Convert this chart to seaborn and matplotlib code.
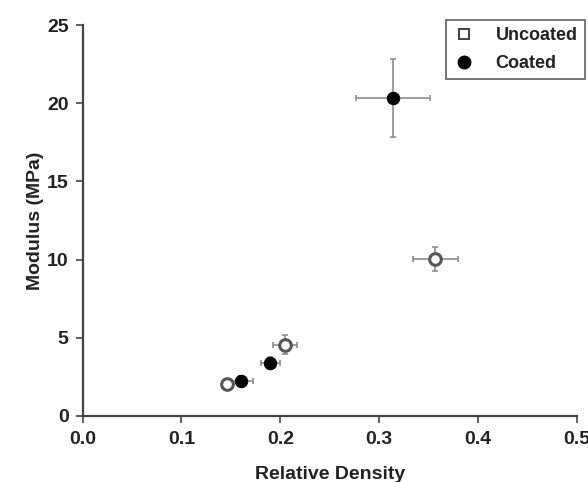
import pandas as pd
import matplotlib.pyplot as plt
import seaborn as sns
from matplotlib.lines import Line2D

# values
uncoated_density = [0.146, 0.205, 0.357]
uncoated_modulus = [2.05, 4.55, 10.05]
uncoated_density_err = [0.005, 0.012, 0.023]
uncoated_modulus_err = [0.2, 0.6, 0.75]

coated_density = [0.160, 0.190, 0.314]
coated_modulus = [2.25, 3.4, 20.35]
coated_density_err = [0.012, 0.010, 0.037]
coated_modulus_err = [0.3, 0.4, 2.5]

df = pd.DataFrame({
    'Relative Density': uncoated_density + coated_density,
    'Modulus': uncoated_modulus + coated_modulus,
    'xerr': uncoated_density_err + coated_density_err,
    'yerr': uncoated_modulus_err + coated_modulus_err,
    'Sample': ['Uncoated'] * 3 + ['Coated'] * 3,
})

sns.set_style('ticks')
plt.rcParams['font.family'] = ['Liberation Sans', 'DejaVu Sans']
plt.rcParams['font.weight'] = 'bold'
plt.rcParams['axes.labelweight'] = 'bold'

fig = plt.figure(figsize=(5.88, 4.82), dpi=100)
ax = fig.add_axes([0.1405, 0.137, 0.8405, 0.811])

# error bars first so the markers sit on top
ax.errorbar(df['Relative Density'], df['Modulus'], xerr=df['xerr'], yerr=df['yerr'],
            fmt='none', ecolor='#8c8c8c', elinewidth=1.2, capsize=2.5, capthick=1.2, zorder=1)

sns.scatterplot(data=df[df['Sample'] == 'Uncoated'], x='Relative Density', y='Modulus',
                marker='o', s=70, facecolor='white', edgecolor='#555555', linewidth=2.2,
                ax=ax, zorder=3, legend=False)
sns.scatterplot(data=df[df['Sample'] == 'Coated'], x='Relative Density', y='Modulus',
                marker='o', s=80, color='black', edgecolor='black',
                ax=ax, zorder=3, legend=False)

ax.set_xlim(0, 0.5)
ax.set_ylim(0, 25)
ax.set_xticks([0.0, 0.1, 0.2, 0.3, 0.4, 0.5])
ax.set_xticklabels(['0.0', '0.1', '0.2', '0.3', '0.4', '0.5'])
ax.set_yticks([0, 5, 10, 15, 20, 25])
sns.despine(ax=ax)
for s in ['left', 'bottom']:
    ax.spines[s].set_linewidth(1.6)
    ax.spines[s].set_color('#444444')
ax.tick_params(axis='both', labelsize=14, width=1.2, length=5, color='#444444',
               labelcolor='#222222')
ax.tick_params(axis='x', pad=6)
ax.tick_params(axis='y', pad=5)
ax.set_xlabel('Relative Density', fontsize=14, labelpad=13, color='#222222')
ax.set_ylabel('Modulus (MPa)', fontsize=14, labelpad=2, color='#222222')

handles = [
    Line2D([], [], marker='s', linestyle='none', markerfacecolor='white',
           markeredgecolor='#333333', markeredgewidth=1.3, markersize=6.5),
    Line2D([], [], marker='o', linestyle='none', color='black', markersize=9),
]
leg = ax.legend(handles, ['Uncoated', 'Coated'], loc='upper right',
                bbox_to_anchor=(1.016, 1.013), borderaxespad=0, fontsize=13,
                frameon=True, fancybox=False, handlelength=1.2, handletextpad=1.15,
                borderpad=0.4, labelspacing=0.6)
leg.get_frame().set_edgecolor('#555555')
leg.get_frame().set_linewidth(1.4)
for t in leg.get_texts():
    t.set_color('#222222')

plt.savefig('out.png', dpi=100)
